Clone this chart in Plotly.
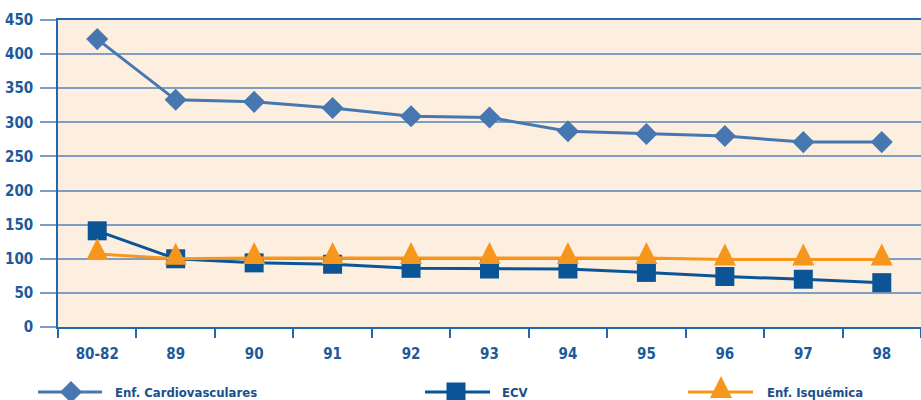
import plotly.graph_objects as go

# ---- data ----
periods = ["80-82", "89", "90", "91", "92", "93", "94", "95", "96", "97", "98"]
cardiovasculares = [422, 333, 330, 321, 309, 307, 287, 283, 280, 271, 271]
ecv = [141, 100, 94, 92, 86, 85, 85, 80, 74, 70, 65]
isquemica = [107, 100, 101, 101, 101, 101, 101, 101, 99, 99, 99]
series_names = ["Enf. Cardiovasculares", "ECV", "Enf. Isquémica"]
y_ticks = [0, 50, 100, 150, 200, 250, 300, 350, 400, 450]

# ---- style ----
W, H = 921, 400
ML, MR, MT, MB = 58, 0, 20, 73
C_CARDIO = "#4677B0"
C_ECV = "#0B5596"
C_ISQ = "#F7961D"
C_GRID = "#7E9DC0"
C_AXIS = "#2567AC"
C_TEXT = "#1D5A9A"
C_LEG = "#1B4F8B"
BG = "#FDEFE0"
FONT = "DejaVu Sans Condensed, DejaVu Sans, sans-serif"

YMAX = 450
plot_h = H - MT - MB
plot_w = W - ML - MR
units_per_px = YMAX / plot_h
TRI_SHIFT_PX = 16  # apex of triangle sits above the line point

def px_x(px):
    return (px - ML) / plot_w

def px_y(py):
    return (H - MB - py) / plot_h

fig = go.Figure()

fig.add_trace(go.Scatter(
    x=periods, y=cardiovasculares, name=series_names[0], mode="lines+markers",
    line=dict(color=C_CARDIO, width=3),
    marker=dict(symbol="diamond", size=17, color=C_CARDIO),
    showlegend=False,
))
fig.add_trace(go.Scatter(
    x=periods, y=ecv, name=series_names[1], mode="lines+markers",
    line=dict(color=C_ECV, width=3),
    marker=dict(symbol="square", size=19, color=C_ECV),
    showlegend=False,
))
fig.add_trace(go.Scatter(
    x=periods, y=isquemica, name=series_names[2], mode="lines",
    line=dict(color=C_ISQ, width=3),
    showlegend=False,
))
# triangles drawn on a pixel-shifted overlay axis so the apex sits above the line
fig.add_trace(go.Scatter(
    x=periods, y=isquemica, name=series_names[2], mode="markers",
    marker=dict(symbol="arrow-up", size=22, color=C_ISQ),
    yaxis="y2", showlegend=False, hoverinfo="skip",
))

shift = TRI_SHIFT_PX * units_per_px

fig.update_layout(
    width=W, height=H,
    margin=dict(l=ML, r=MR, t=MT, b=MB, autoexpand=False),
    paper_bgcolor="white", plot_bgcolor=BG,
    font=dict(family=FONT, color=C_TEXT, size=15),
    xaxis=dict(
        type="category", range=[-0.5, len(periods) - 0.5],
        showgrid=False, zeroline=False,
        showline=True, linecolor=C_AXIS, linewidth=1.5, mirror=True,
        ticks="outside", tickson="boundaries", ticklen=9, tickcolor=C_AXIS, tickwidth=1.5,
        ticklabelstandoff=12,
        tickfont=dict(family=FONT, size=15, color=C_TEXT, weight="bold"),
    ),
    yaxis=dict(
        range=[0, YMAX], tickvals=y_ticks,
        showgrid=True, gridcolor=C_GRID, gridwidth=2,
        zeroline=False,
        showline=True, linecolor=C_AXIS, linewidth=1.5,
        ticks="outside", ticklen=16, tickcolor=C_GRID, tickwidth=2,
        ticklabelstandoff=4,
        tickfont=dict(family=FONT, size=15, color=C_TEXT, weight="bold"),
    ),
    yaxis2=dict(
        overlaying="y", range=[-shift, YMAX - shift],
        visible=False, showgrid=False, zeroline=False,
    ),
    showlegend=False,
)

# ---- custom legend (long lines with centred markers) ----
LEG_Y = 392
legend_items = [
    # (line_x0, line_x1, marker_cx, text_x, colour, path)
    (38, 102, 71, 113, C_CARDIO, "M-11,0 L0,11 L11,0 L0,-11 Z"),
    (425, 490, 456, 500, C_ECV, "M-9.5,-9.5 L9.5,-9.5 L9.5,9.5 L-9.5,9.5 Z"),
    (688, 753, 721, 765, C_ISQ, "M-11,-6 L11,-6 L0,16 Z"),
]
shapes = []
annotations = []
for (x0, x1, cx, tx, col, path), name in zip(legend_items, series_names):
    shapes.append(dict(type="line", xref="paper", yref="paper",
                       x0=px_x(x0), x1=px_x(x1), y0=px_y(LEG_Y), y1=px_y(LEG_Y),
                       line=dict(color=col, width=3)))
    shapes.append(dict(type="path", xref="paper", yref="paper",
                       xsizemode="pixel", ysizemode="pixel",
                       xanchor=px_x(cx), yanchor=px_y(LEG_Y),
                       path=path, fillcolor=col, line=dict(width=0)))
    annotations.append(dict(text="<b>" + name + "</b>", xref="paper", yref="paper",
                            x=px_x(tx), y=px_y(LEG_Y), xanchor="left", yanchor="middle",
                            showarrow=False,
                            font=dict(family=FONT, size=13, color=C_LEG)))
fig.update_layout(shapes=shapes, annotations=annotations)

post = "document.body.style.margin='0px';document.body.style.overflow='hidden';"
fig.write_html("out.html", post_script=post, config={"displayModeBar": False})
